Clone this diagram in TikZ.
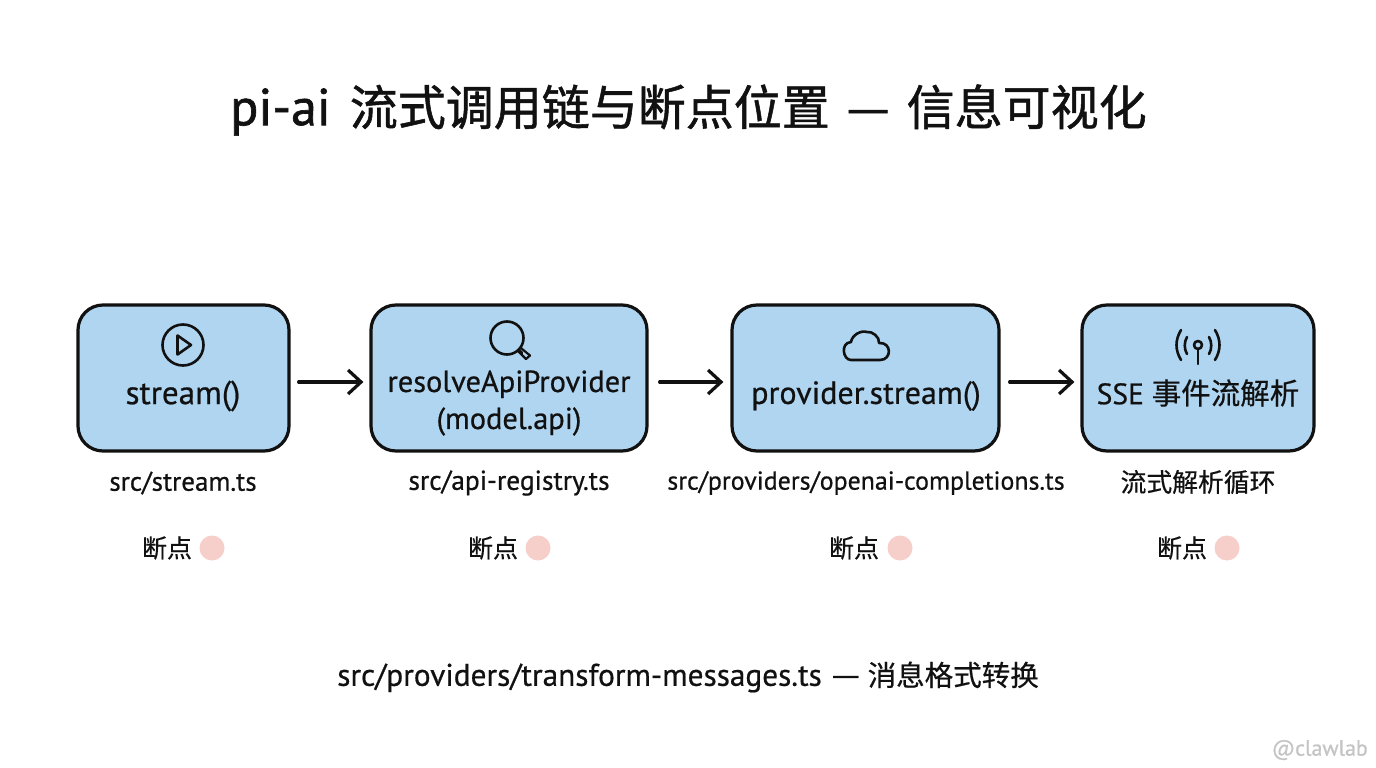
\documentclass[tikz,border=0pt]{standalone}
\usepackage{fontspec}
\usetikzlibrary{arrows.meta}
\setmainfont[FakeBold=0.6]{PT Sans}
\newfontfamily\cjk[FakeBold=0.5]{Noto Sans CJK SC}
\newfontfamily\ttlatin[FakeBold=1.2]{PT Sans}
\newfontfamily\ttcjk[FakeBold=1.1]{Noto Sans CJK SC}
\definecolor{boxblue}{HTML}{B0D5F1}
\definecolor{ink}{HTML}{111111}
\definecolor{dotpink}{HTML}{F6CFCB}
\definecolor{wmgray}{HTML}{C4C4C4}
\newcommand{\fs}[1]{\fontsize{#1}{#1}\selectfont}
\tikzset{
  x=1pt,y=-1pt,
  stagebox/.style={draw=ink,fill=boxblue,line width=3.2pt,rounded corners=25pt,minimum height=146pt,inner sep=0pt},
  flow/.style={draw=ink,line width=3.2pt,line cap=round,-{Straight Barb[length=13pt,width=24pt,line width=3.2pt]}},
  iconline/.style={draw=ink,line width=2.6pt,line cap=round,line join=round},
  mainlabel/.style={text=ink,align=center,inner sep=0pt},
  sublabel/.style={text=ink,inner sep=0pt},
  cjklabel/.style={text=ink,font=\cjk,inner sep=0pt},
  bpdot/.style={circle,fill=dotpink,minimum size=25pt,inner sep=0pt},
}
\begin{document}
\begin{tikzpicture}
\useasboundingbox (0,0) rectangle (1376,768);
\fill[white] (0,0) rectangle (1376,768);
\node[text=ink,inner sep=0pt] (title) at (688.5,110) {\fs{52}\ttlatin pi-ai\hspace{19pt}{\fs{48}\ttcjk 流式调用链与断点位置\hspace{17pt}—\hspace{17pt}信息可视化}};
\node[stagebox,minimum width=211pt] (a) at (183.5,378) {};
\node[stagebox,minimum width=276pt] (b) at (509,378) {};
\node[stagebox,minimum width=267pt] (c) at (865.5,378) {};
\node[stagebox,minimum width=232pt] (d) at (1198,378) {};
\draw[flow] ([yshift=-4pt,xshift=8pt]a.east) -- ([yshift=-4pt,xshift=-6pt]b.west);
\draw[flow] ([yshift=-4pt,xshift=11pt]b.east) -- ([yshift=-4pt,xshift=-7pt]c.west);
\draw[flow] ([yshift=-4pt,xshift=9pt]c.east) -- ([yshift=-4pt,xshift=-6pt]d.west);
% icons
\draw[iconline] (183,345) circle (20.5);
\draw[iconline] (177.5,335.5) -- (191,345) -- (177.5,354.5) -- cycle;
\draw[iconline] (507,338) circle (16.5);
\draw[iconline] (519,350) -- (522,353);
\draw[iconline,line width=2.2pt] (521.5,348.5) -- (530,355.5) -- (526,359) -- (518.5,351.5);
\draw[iconline] (851,360) .. controls (843,360) and (840,343) .. (851,342) .. controls (852,335) and (861,330) .. (867,332) .. controls (872,331) and (880,337) .. (879,343) .. controls (892,342) and (892,360) .. (880,360) -- cycle;
\draw[iconline] (1198,345) circle (4);
\draw[iconline] (1198,349) -- (1198,364);
\draw[iconline] (1187,337) .. controls (1184,342) and (1184,349) .. (1187,354);
\draw[iconline] (1209,337) .. controls (1212,342) and (1212,349) .. (1209,354);
\draw[iconline] (1181,330) .. controls (1175,340) and (1175,350) .. (1181,360);
\draw[iconline] (1215,330) .. controls (1221,340) and (1221,350) .. (1215,360);
% box labels
\node[mainlabel,font=\fs{33}] (la) at (183,396) {stream()};
\node[mainlabel,font=\fontsize{30.4}{37}\selectfont] (lb) at (509,403) {resolveApiProvider\\(model.api)};
\node[mainlabel,font=\fs{32}] (lc) at (866,396) {provider.stream()};
\node[mainlabel,font=\fs{29.5}] (ld) at (1198,393) {SSE {\cjk 事件流解析}};
% file labels
\node[sublabel,font=\fs{27}] (fa) at (183,483) {src/stream.ts};
\node[sublabel,font=\fs{27.4}] (fb) at (509,483) {src/api-registry.ts};
\node[sublabel,font=\fs{25.9}] (fc) at (866,483) {src/providers/openai-completions.ts};
\node[cjklabel,font=\fs{25.8}\cjk] (fd) at (1198,482) {流式解析循环};
% breakpoints
\node[cjklabel,font=\fs{25}\cjk] (ba) at (167,548) {断点};
\node[cjklabel,font=\fs{25}\cjk] (bb) at (493,548) {断点};
\node[cjklabel,font=\fs{25}\cjk] (bc) at (854,548) {断点};
\node[cjklabel,font=\fs{25}\cjk] (bd) at (1182,548) {断点};
\node[bpdot] (da) at (212,548) {};
\node[bpdot] (db) at (538,548) {};
\node[bpdot] (dc) at (900,548) {};
\node[bpdot] (dd) at (1227,548) {};
\node[text=ink,inner sep=0pt] (foot) at (688,677) {\fs{31.3}src/providers/transform-messages.ts\hspace{10pt}{\cjk —\hspace{8pt}\fs{28.5}消息格式转换}};
\node[text=wmgray,inner sep=0pt,anchor=east] (wm) at (1368,750) {\fs{22}@clawlab};
\end{tikzpicture}
\end{document}
